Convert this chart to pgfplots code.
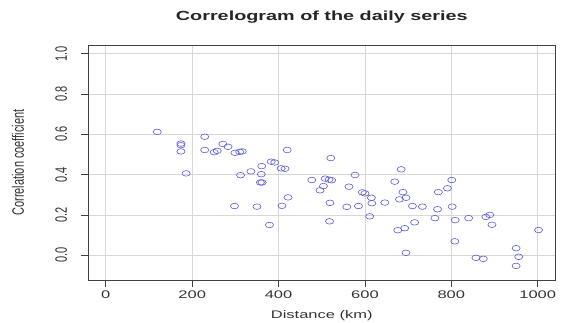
\documentclass[border=0pt]{standalone}
\usepackage{fontspec}
\usepackage{pgfplots}
\pgfplotsset{compat=1.18}
\setmainfont{Liberation Sans}
\newfontfamily\labfont[FakeStretch=1.5]{Liberation Sans}
\newfontfamily\rotfont[FakeStretch=0.667]{Liberation Sans}
\definecolor{ptblue}{RGB}{90,90,220}
\definecolor{gridgray}{RGB}{215,215,215}
\begin{document}
\begin{tikzpicture}
\useasboundingbox (0,0) rectangle (563pt,322pt);
\begin{axis}[
  at={(88.5pt,42pt)}, anchor=south west,
  scale only axis, width=466.5pt, height=235pt,
  xmin=-40, xmax=1040, ymin=-0.123, ymax=1.043,
  xtick={0,200,400,600,800,1000},
  xticklabels={0,200,400,600,800,1000},
  ytick={0,0.2,0.4,0.6,0.8,1.0},
  yticklabels={0.0,0.2,0.4,0.6,0.8,1.0},
  axis line style={black!75, line width=0.6pt},
  tick align=outside, tick pos=left,
  major tick length=7pt,
  tick style={black!75, line width=0.6pt},
  grid=major,
  major grid style={gridgray, line width=0.6pt},
  /pgf/number format/assume math mode=true,
  xticklabel style={font=\labfont\fontsize{11}{13}\selectfont, text=black!80},
  yticklabel style={font=\rotfont\fontsize{16.5}{18}\selectfont, text=black!80, xshift=-11pt, rotate=90, anchor=south},
  xlabel={Distance (km)},
  ylabel={Correlation coefficient},
  xlabel style={at={(axis description cs:0.5,-0.1532)}, anchor=center, font=\labfont\fontsize{11}{13}\selectfont, text=black!80},
  ylabel style={at={(axis description cs:-0.1511,0.5)}, anchor=center, rotate=0, font=\rotfont\fontsize{16.5}{18}\selectfont, text=black!80},
  title={Correlogram of the daily series},
  title style={at={(axis description cs:0.5,1.0936)}, anchor=center, font=\labfont\bfseries\fontsize{13.2}{15}\selectfont, text=black!85},
]
\addplot[only marks, mark=o, mark size=2.8pt, color=ptblue, mark options={xscale=1.45, line width=0.6pt}] coordinates {
(119,0.612) (174,0.554) (174,0.546) (174,0.515) (186,0.406)
(229,0.588) (229,0.522) (251,0.511) (258,0.518) (271,0.552)
(283,0.538) (299,0.508) (310,0.513) (316,0.515) (420,0.522)
(312,0.397) (336,0.416) (361,0.442) (360,0.402) (383,0.464)
(391,0.460) (406,0.431) (415,0.429) (358,0.361) (362,0.361)
(422,0.287) (298,0.244) (350,0.241) (408,0.245) (379,0.150)
(521,0.482) (684,0.426) (477,0.373) (508,0.380) (517,0.375)
(523,0.372) (504,0.343) (496,0.322) (577,0.398) (563,0.340)
(594,0.312) (600,0.307) (615,0.285) (616,0.258) (646,0.261)
(669,0.365) (688,0.313) (695,0.285) (680,0.277) (801,0.373)
(791,0.332) (770,0.313) (519,0.260) (558,0.240) (585,0.244)
(710,0.244) (733,0.241) (802,0.241) (768,0.228) (611,0.193)
(762,0.184) (809,0.174) (840,0.184) (880,0.190) (889,0.200)
(894,0.151) (518,0.168) (715,0.163) (692,0.134) (676,0.124)
(1002,0.125) (808,0.069) (950,0.035) (956,-0.008) (950,-0.053)
(695,0.012) (857,-0.013) (874,-0.018)
};
\end{axis}
\end{tikzpicture}
\end{document}
